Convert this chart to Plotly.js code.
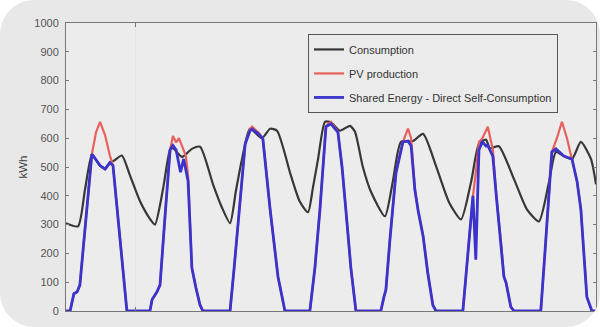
<!DOCTYPE html>
<html>
<head>
<meta charset="utf-8">
<script src="https://cdn.plot.ly/plotly-3.0.1.min.js"></script>
<style>
html, body { margin: 0; padding: 0; background: #ffffff; }
#wrap { width: 600px; height: 327px; border-radius: 34px; overflow: hidden; background: #e8e8e8; }
#chart { width: 600px; height: 327px; }
</style>
</head>
<body>
<div id="wrap"><div id="chart"></div></div>
<script>
// Time axis in hours (7 days), values in kWh
const seriesNames = ["Consumption", "PV production", "Shared Energy - Direct Self-Consumption"];
const yTickVals = [0, 100, 200, 300, 400, 500, 600, 700, 800, 900, 1000];
const xTickHours = [21.9];

const consHours = [
  0, 3.8, 6.0, 8.2, 9.5, 10.8, 12.4, 13.9, 15.2, 17.7, 20.3, 23.5, 26.6,
  28.2, 30.7, 33.0, 33.9, 36.8, 39.9, 42.5, 46.6, 49.4,
  52.0, 53.9, 55.8, 58.3, 62.1, 64.7, 66.9, 71.3, 74.1,
  76.7, 78.3, 79.9, 82.1, 84.0, 86.8, 90.0, 91.6, 94.1, 96.7,
  101.1, 103.6, 106.2, 110.0, 113.2, 117.3, 121.4,
  125.2, 128.4, 130.9, 133.1, 134.4, 137.2, 142.0, 146.1,
  149.9, 153.1, 155.3, 157.8, 160.4, 163.2, 166.4, 168
];
const consKwh = [
  305, 294, 420, 545, 525, 505, 493, 515, 522, 540, 470, 380, 320,
  300, 420, 560, 565, 535, 563, 570, 440, 360,
  305, 420, 528, 633, 600, 633, 626, 470, 380,
  343, 430, 528, 657, 655, 626, 643, 622, 500, 413,
  329, 450, 587, 590, 615, 503, 378,
  318, 448, 580, 595, 565, 572, 458, 353,
  311, 448, 552, 538, 528, 587, 528, 440
];

const pvHours = [
  0, 1.3, 2.5, 3.5, 4.4, 6.3, 8.2, 9.5, 10.8, 12.4, 13.9, 14.9, 17.1, 19.3,
  26.6, 27.3, 28.8, 29.8, 31.4, 33.0, 33.9, 34.9, 35.8, 36.8, 38.0, 38.7, 39.9, 41.2, 42.5, 43.4,
  52.0, 53.3, 55.2, 56.8, 58.3, 59.0, 61.0, 62.4, 64.7, 67.2, 69.4,
  77.3, 78.9, 80.5, 82.4, 84.0, 86.2, 87.5, 88.7, 90.3, 91.9,
  99.8, 100.8, 101.4, 102.7, 104.6, 106.8, 108.4, 109.4, 110.6, 111.6, 113.2, 114.7, 116.3, 117.3,
  125.8, 127.4, 129.0, 129.9, 130.9, 132.0, 133.7, 135.3, 136.4, 137.9, 138.8, 139.5, 141.0, 142.0,
  150.5, 151.8, 153.1, 154.0, 155.6, 157.2, 158.8, 160.4, 162.0, 163.2, 165.1, 166.7, 168
];
const pvKwh = [
  0, 0, 60, 66, 90, 330, 545, 620, 657, 610, 540, 505, 250, 0,
  0, 40, 66, 90, 330, 560, 608, 585, 600, 573, 538, 470, 150, 80, 20, 0,
  0, 150, 380, 580, 630, 640, 620, 600, 353, 119, 0,
  0, 150, 353, 643, 657, 622, 500, 353, 150, 0,
  0, 50, 73, 250, 480, 587, 633, 600, 420, 350, 260, 130, 20, 0,
  0, 200, 400, 480, 587, 600, 640, 560, 400, 238, 120, 98, 14, 0,
  0, 200, 420, 552, 600, 657, 600, 528, 450, 353, 49, 0, 0
];

const sharedHours = [
  0, 1.3, 2.5, 3.5, 4.4, 6.3, 8.2, 9.5, 10.8, 12.4, 13.9, 14.9, 17.1, 19.3,
  26.6, 27.3, 28.8, 29.8, 31.4, 33.0, 33.9, 34.9, 36.3, 37.3, 38.7, 39.9, 41.2, 42.5, 43.4,
  52.0, 53.3, 55.2, 56.8, 58.3, 59.0, 61.0, 62.4, 64.7, 67.2, 69.4,
  77.3, 78.9, 80.5, 82.4, 84.0, 86.2, 87.5, 88.7, 90.3, 91.9,
  99.8, 100.8, 101.4, 102.7, 104.6, 106.8, 108.4, 109.4, 110.6, 111.6, 113.2, 114.7, 116.3, 117.3,
  125.8, 127.4, 129.0, 129.9, 130.9, 132.0, 133.1, 133.7, 135.3, 136.4, 137.9, 138.8, 139.5, 141.0, 142.0,
  150.5, 151.8, 153.1, 154.0, 155.3, 157.8, 160.4, 162.0, 163.2, 165.1, 166.7, 168
];
const sharedKwh = [
  0, 0, 60, 66, 90, 330, 545, 525, 505, 493, 515, 505, 250, 0,
  0, 40, 66, 90, 330, 560, 575, 560, 482, 528, 451, 150, 80, 20, 0,
  0, 150, 380, 580, 625, 632, 615, 598, 353, 119, 0,
  0, 150, 353, 640, 650, 620, 500, 353, 150, 0,
  0, 50, 73, 250, 480, 587, 590, 573, 420, 350, 260, 130, 20, 0,
  0, 200, 400, 178, 560, 587, 573, 575, 538, 400, 238, 120, 98, 14, 0,
  0, 200, 420, 552, 563, 538, 528, 450, 353, 49, 0, 0
];

const colors = ["#373737", "#e8605c", "#3b33cc"];
const widths = [2.2, 2.2, 2.8];
const shapes = ["spline", "linear", "linear"];
const xs = [consHours, pvHours, sharedHours];
const ys = [consKwh, pvKwh, sharedKwh];

const traces = seriesNames.map((name, i) => ({
  type: "scatter", mode: "lines", name: name,
  x: xs[i], y: ys[i], legendgroup: "g" + i,
  line: { color: colors[i], width: widths[i], shape: shapes[i], smoothing: 0.6 }
}));

const font = "'Liberation Sans', Arial, Helvetica, sans-serif";
const layout = {
  width: 600, height: 327,
  margin: { l: 66, r: 4, t: 23, b: 16, pad: 0 },
  paper_bgcolor: "rgba(0,0,0,0)",
  plot_bgcolor: "#ececec",
  font: { family: font, color: "#444", size: 11 },
  showlegend: true,
  legend: {
    x: 0.4566, xanchor: "left", y: 0.962, yanchor: "top",
    bgcolor: "#ebebeb", bordercolor: "#555", borderwidth: 1,
    font: { family: font, size: 11, color: "#333" },
    tracegroupgap: 5, traceorder: "grouped"
  },
  xaxis: {
    range: [0, 168], showticklabels: false,
    tickvals: xTickHours, ticks: "inside", ticklen: 4, tickcolor: "#777",
    showline: true, linecolor: "#777", linewidth: 1, mirror: "ticks",
    showgrid: true, gridcolor: "#e4e4e4", zeroline: false
  },
  yaxis: {
    range: [0, 1000], tickvals: yTickVals, ticks: "inside", ticklen: 3, tickcolor: "#777",
    showline: true, linecolor: "#777", linewidth: 1, mirror: "ticks",
    showgrid: false, zeroline: false, ticklabelstandoff: 4,
    tickfont: { family: font, size: 11, color: "#555" },
    title: { text: "kWh", font: { family: font, size: 11.5, color: "#444" }, standoff: 4 }
  }
};

Plotly.newPlot("chart", traces, layout, { displayModeBar: false, staticPlot: true });
</script>
</body>
</html>
